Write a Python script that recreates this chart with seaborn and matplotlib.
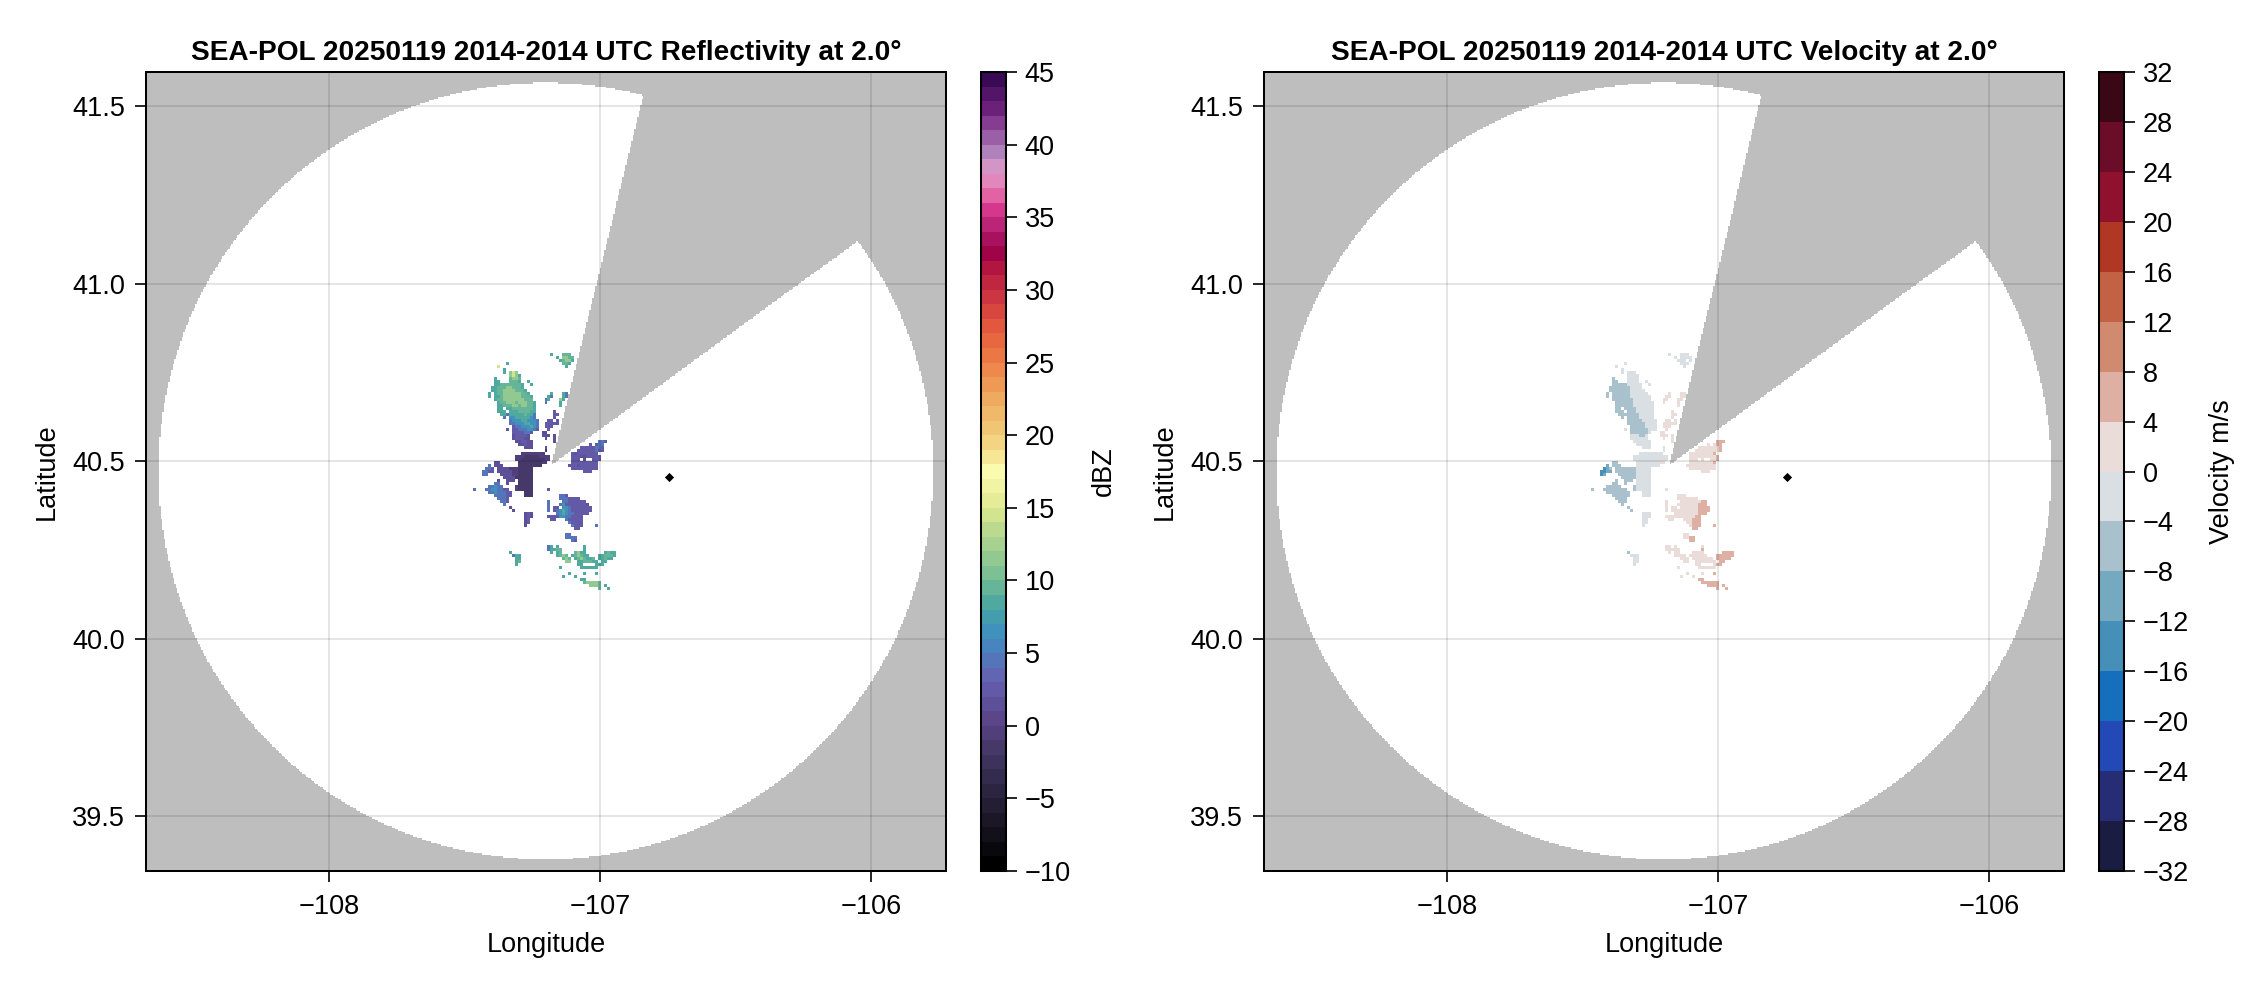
import matplotlib
matplotlib.use("Agg")
import matplotlib.pyplot as plt
from matplotlib.colors import LinearSegmentedColormap, ListedColormap
import numpy as np
import pandas as pd
import seaborn as sns

sns.set_theme(style="ticks")
plt.rcParams['font.family'] = ['Liberation Sans', 'DejaVu Sans']

# axes limits
lon_lim = [-108.675, -105.724]
lat_lim = [39.346, 41.596]
lon_ticks = [-108, -107, -106]
lat_ticks = [39.5, 40.0, 40.5, 41.0, 41.5]
lon_tick_labels = ['\u2212108', '\u2212107', '\u2212106']
lat_tick_labels = ['39.5', '40.0', '40.5', '41.0', '41.5']

# radar coverage, gray is everything out of range or in the blocked sector
range_center = [-107.2, 40.472]
range_radius = [1.428, 1.093]
sector_apex = [-107.18, 40.489]
sector_tip_a = [-106.84, 41.528]
sector_tip_b = [-106.056, 41.117]
marker_point = [-106.746, 40.455]

refl_levels = [-10, -8, -5, -2.5, 0, 3, 5, 6.5, 8, 10, 13, 15, 17.5, 19, 21, 23, 25, 27.5,
               29.5, 31.5, 33, 34.5, 36, 37, 38.5, 40, 41.5, 43, 45]
refl_colors = ['#000000', '#121018', '#2b2440', '#3f3560', '#5a4488', '#6562b0', '#4a80c0',
               '#3e94bb', '#49a5a0', '#75bd94', '#b3d68c', '#dfe993', '#fbfbb0', '#f3dc88',
               '#efc070', '#eea55c', '#ee8148', '#e45a3e', '#cf3a42', '#b8193f', '#9a0048',
               '#b52070', '#d83a90', '#e26aa8', '#e09cca', '#ad80ba', '#8f4a9c', '#6a1f78',
               '#3b0a55']
refl_ticks = [-10, -5, 0, 5, 10, 15, 20, 25, 30, 35, 40, 45]

vel_colors = ['#1a1c42', '#262d74', '#2249b5', '#166fbc', '#458fb9', '#75a9bf', '#a9c1cc',
              '#dadfe3', '#e9dcd9', '#deb0a4', '#cf8a70', '#c26144', '#b03723', '#90112e',
              '#6b0d28', '#3a0815']
vel_ticks = [-32, -28, -24, -20, -16, -12, -8, -4, 0, 4, 8, 12, 16, 20, 24, 28, 32]

# echo rasters, groups of ten columns
echo_origin = [-107.479, 40.813]
refl_codes = {'d': -2, 'm': -0.5, 'p': 1.5, 'q': 2.5, 'b': 4.5, 'B': 6, 't': 8, 'g': 9.5, 'G': 11, 'y': 14}
vel_codes = {'h': -14, 'a': -10, 'b': -6, 'c': -2, 'e': 2, 'f': 6}

refl_rows = [
    "",
    ".......... .......... .......t.. .ggg",
    ".......... .......... .........t .GGgg",
    ".......... .......... .......... tgGGt",
    ".......... ..t....... .......... .ggt",
    ".........y .......... .......... ..t",
    ".......... .t",
    ".......... .t.GyG",
    ".......... ...GyGt",
    "........t. ...gGGg",
    "........tt ...gggt..t",
    "........tt gggggggt.. t",
    ".......ttg ggGGgggt..",
    ".......ttg gGGGGgggt.",
    "......t.tg gGGGGGGggt .......t.. .tb",
    "......t.tt gGGGGGGggg t.....tb.. .tb",
    "........tg gGGGGGGGgg g....bt... Gt",
    ".........t ggGGGgGGGg gt...b.... t",
    ".........t tgggGGgGGg gt........ t",
    ".........t t.ttgggggg gt",
    ".........t tt.tttgggg tt......q.",
    ".......... ttbtttttgt tb......qq",
    ".......... .b.BBttttt Bb......q.",
    ".......... ...bBBBttB BBb...qq.q",
    ".......... ...bbBBBtt BBb..qqqqq",
    ".......... ....qbbBBB tBb..qqq..",
    ".......... ..q.qqbbbB Bbq...q...",
    ".......... ....qqqqbb q...pp....",
    ".......... ....pqqqqp ....ppp.p.",
    ".......... ....pqqqpp .....p..p.",
    ".......... .....ppqqp p.......p. .......... ...bbq",
    ".......... ......ppqp p......... .......... q.qbb",
    ".......... ........pp p....p.... .......qqq qqbbq",
    ".......... .......... .....d.... ......qqqq qqbqq",
    ".......... .......mmm mmmmm.... .....qpqqq qqqq",
    ".......... .....mmmdd dddmmmm... ....qqqppq qqqq",
    ".......... .....mmddd dddddmm... ....qqq.p. .qqq",
    "........pp ......dddd ddddmm.... ....qqqqqq qqq",
    "......b.pp p.....dddd dddd...... ...qqqpqqq qqq",
    ".....bbq.p pppmmmdddd d......... ....qqqqqq qqq",
    "....bbqq.p ppppmmdddd d......... ........qq q",
    "....bb.... ppppmmdddd d",
    ".......... .ppppddddd d",
    ".........p ..ppp.dddd d",
    "........bb ..p...dddd d",
    "......bbBb b....mdddd d",
    ".b...bbBBb bqq..mdddd d.....q",
    "......bbBb bbqq....dd d",
    "........bb bbqq....dd d......... bbq",
    ".........b bbq....... .......... bbbqqqq",
    ".......... bbq....... ......b... .bbqqqqqq",
    ".......... .b........ ......b... bBqqqqqqqp",
    ".......... ...p...... ......b.qq .BBbqqqqqq q",
    ".......... ....p..... ......b.qb BtBbqqqqqq q",
    ".......... ........pq p........b BtBbbqqqqq",
    ".......... ........pq p.....qqqq BBbbqqqq",
    ".......... ........pq .......qq. ..bqqqqq",
    ".......... ........pq .......... ...bqqqq",
    ".......... ........p. .......... ....bqqq.. ..b",
    ".......... .......... .......... .....qq",
    "",
    ".......... .......... .......... ..bb",
    ".......... .......... .......... ..bbbb",
    ".......... .......... .......... ....bq",
    "",
    ".......... .......... ......bt.t ........t.",
    ".......... .......... ......bttg g.......t.",
    ".......... ...t...... .......t.t g....gGtt. .....tgtt",
    ".......... ....btt... .........t gGg.tgGgtt ...ttgggt",
    ".......... .....tt... .......... .gGg.tgGgt tg.ttgtt",
    ".......... .....tg... .......... ..GG..ttgg gtt.tt",
    ".......... .....t.... .......... ......tt.. ..ttt",
    ".......... .......... .......... t......ttt ttt",
    "",
    ".......... .......... .......... ...t....t. ..t",
    ".......... .......... .......... .t...t....",
    ".......... .......... .......... .......tt.",
    ".......... .......... .......... ........gG GGGg",
    ".......... .......... .......... .......... GGGg.t",
    ".......... .......... .......... .......... ...g..t",
]

vel_rows = [
    "",
    ".......... .......... .......c.. .ccc",
    ".......... .......... .........c .cccc",
    ".......... .......... .......... ccc.c",
    ".......... ..c....... .......... .ccc",
    ".........c .......... .......... ..c",
    ".......... .c",
    ".......... .c.ccc",
    ".......... ...cccc",
    "........b. ...cccc",
    "........bb ...cccc..c",
    "........bb bbbccccc.. c",
    ".......bbb bbbbcccc..",
    ".......bbb bbbbccccc.",
    "......b.bb bbbbcccccc .......e.. .ee",
    "......b.bb bbbbcccccc c.....ee.. .ee",
    "........bb bbbbbccccc c....ee... ee",
    ".........b bbbbbccccc cc...e.... e",
    ".........b bbbbbccccc cc........ e",
    ".........b b.bbbbcccc cc",
    ".........b bb.bbbcccc cc......e.",
    ".......... bbbbbbbccc cc......ee",
    ".......... .b.bbbbccc cc......e.",
    ".......... ...bbbbbcc ccc...ee.e",
    ".......... ...bbbbbbc ccc..eeeee",
    ".......... ....bbbbbc ccc..eee..",
    ".......... ..c.bbbbbb ccc...e...",
    ".......... ....bbbbbb c...ee....",
    ".......... ....cccbbc ....eee.e.",
    ".......... ....cccccc .....e..e.",
    ".......... .....ccccc c.......e. .......... ...fff",
    ".......... ......cccc c......... .......... e.eff",
    ".......... ........cc c....c.... .......eee eeeef",
    ".......... .......... .....c.... ......eeee eeeef",
    ".......... .......ccc ccccc.... .....eeeee eeef",
    ".......... .....ccccc ccccccc... ....eeeeee eeef",
    ".......... .....ccccc ccccccc... ....eee.e. .eef",
    "........bb ......cccc ccccee.... ....eeeeee eef",
    "......a.bb b.....cccc cccc...... ...eeeeeee eee",
    ".....hab.b bbbbbbcccc c......... ....eeeeee eee",
    "....hhaa.b bbbbbbcccc c......... ........ee e",
    "....ha.... bbbbbbcccc c",
    ".......... .bbbbbcccc c",
    ".........b ..bbb.cccc c",
    "........bb ..b...cccc c",
    "......bbbb b....bcccc c",
    ".b...bbbbb bbb..bcccc c.....e",
    "......bbbb bbbb....cc c",
    "........bb bbbb....cc c......... eee",
    ".........b bbb....... .......... eeeeeee",
    ".......... bbb....... ......e... .eeeeeeeff",
    ".......... .b........ ......e... eeeeeeefff",
    ".......... ...b...... ......e.ee .eeeeeefff f",
    ".......... ....b..... ......e.ee eeeeeeefff f",
    ".......... ........cc c........e eeeeeeefff",
    ".......... ........cc c.....eeee eeeeeeff",
    ".......... ........cc .......ee. ..eeefff",
    ".......... ........cc .......... ...eefff",
    ".......... ........c. .......... ....efff.. ..f",
    ".......... .......... .......... .....ff",
    "",
    ".......... .......... .......... ..ee",
    ".......... .......... .......... ..eeff",
    ".......... .......... .......... ....ff",
    "",
    ".......... .......... ......ee.e ........e.",
    ".......... .......... ......eeee e.......f.",
    ".......... ...b...... .......e.e e....eeee. .....ffff",
    ".......... ....ccc... .........e eee.eeeeee ...ffffff",
    ".......... .....cc... .......... .eee.eeeee ee.fffff",
    ".......... .....cc... .......... ..ee..eeee eee.ff",
    ".......... .....c.... .......... ......ee.. ..eff",
    ".......... .......... .......... e......eee eee",
    "",
    ".......... .......... .......... ...e....e. ..f",
    ".......... .......... .......... .e...e....",
    ".......... .......... .......... .......ff.",
    ".......... .......... .......... ........ff ffff",
    ".......... .......... .......... .......... ffff.f",
    ".......... .......... .......... .......... ...f..f",
]

# 1.5 px cells over the 800 px axes, one raster cell covers two of them each way
n_cells = 534
echo_span = 2
lon_step = (lon_lim[1] - lon_lim[0]) / n_cells
lat_step = (lat_lim[1] - lat_lim[0]) / n_cells
lon_centers = lon_lim[0] + (np.arange(n_cells) + 0.5) * lon_step
lat_centers = lat_lim[1] - (np.arange(n_cells) + 0.5) * lat_step


def lon_to_x(lon):
    return (np.asarray(lon) - lon_lim[0]) / lon_step


def lat_to_y(lat):
    return (lat_lim[1] - np.asarray(lat)) / lat_step


def coverage_grid():
    lon, lat = np.meshgrid(lon_centers, lat_centers)
    in_range = ((lon - range_center[0]) / range_radius[0]) ** 2 + ((lat - range_center[1]) / range_radius[1]) ** 2 <= 1
    squeeze = np.cos(np.radians(sector_apex[1]))
    az = np.arctan2((lon - sector_apex[0]) * squeeze, lat - sector_apex[1])
    az_a = np.arctan2((sector_tip_a[0] - sector_apex[0]) * squeeze, sector_tip_a[1] - sector_apex[1])
    az_b = np.arctan2((sector_tip_b[0] - sector_apex[0]) * squeeze, sector_tip_b[1] - sector_apex[1])
    blocked = (az >= az_a) & (az <= az_b)
    return pd.DataFrame((in_range & ~blocked).astype(float))


def echo_grid(rows, codes):
    grid = np.full((n_cells, n_cells), np.nan)
    col0 = int(round(lon_to_x(echo_origin[0])))
    row0 = int(round(lat_to_y(echo_origin[1])))
    for r, text in enumerate(rows):
        for c, ch in enumerate(text.replace(' ', '')):
            if ch != '.':
                grid[row0 + r * echo_span:row0 + (r + 1) * echo_span,
                     col0 + c * echo_span:col0 + (c + 1) * echo_span] = codes[ch]
    return pd.DataFrame(grid)


def style_spines(ax):
    for spine in ax.spines.values():
        spine.set_visible(True)
        spine.set_linewidth(1.45)
        spine.set_color('black')


def draw_panel(rect, cbar_rect, title, rows, codes, cmap, vmin, vmax, ticks, cbar_label):
    ax = fig.add_axes(rect)
    cax = fig.add_axes(cbar_rect)
    sns.heatmap(coverage_grid(), ax=ax, cmap=ListedColormap(['#bebebe', '#ffffff']), vmin=0, vmax=1,
                cbar=False, xticklabels=False, yticklabels=False)
    sns.heatmap(echo_grid(rows, codes), ax=ax, cmap=cmap, vmin=vmin, vmax=vmax, cbar_ax=cax,
                cbar_kws={'ticks': ticks}, xticklabels=False, yticklabels=False)
    sns.scatterplot(x=[float(lon_to_x(marker_point[0]))], y=[float(lat_to_y(marker_point[1]))], marker='D',
                    color='black', s=22, linewidth=0, ax=ax, legend=False, zorder=5)

    ax.set_xticks(lon_to_x(lon_ticks))
    ax.set_xticklabels(lon_tick_labels)
    ax.set_yticks(lat_to_y(lat_ticks))
    ax.set_yticklabels(lat_tick_labels, rotation=0)
    ax.set_xlim(0, n_cells)
    ax.set_ylim(n_cells, 0)
    ax.set_axisbelow(False)
    ax.grid(True, color='black', alpha=0.1, linewidth=1.45)
    ax.tick_params(length=8, width=1.2, color='black', labelsize=19.5, labelcolor='black')
    ax.tick_params(axis='x', pad=8.6)
    ax.tick_params(axis='y', pad=7)
    ax.set_xlabel('Longitude', fontsize=19.5, color='black', visible=True)
    ax.set_ylabel('Latitude', fontsize=19.5, color='black', visible=True)
    ax.xaxis.set_label_coords(0.5, -0.0763)
    ax.yaxis.set_label_coords(-0.1075, 0.5)
    ax.set_title(title, fontsize=20.2, fontweight='bold', pad=9, color='black')
    style_spines(ax)

    cax.tick_params(length=8, width=1.2, color='black', labelsize=19.5, pad=5.5, labelcolor='black')
    cax.set_ylabel(cbar_label, fontsize=19.5, color='black')
    cax.yaxis.set_label_coords(4.4, 0.5)
    style_spines(cax)


W, H = 2262, 990
fig = plt.figure(figsize=(W / 100, H / 100), dpi=100)


def px_rect(x0, x1, y0, y1):
    return [x0 / W, 1 - y1 / H, (x1 - x0) / W, (y1 - y0) / H]


refl_cmap = LinearSegmentedColormap.from_list(
    'refl', [((v + 10) / 55, c) for v, c in zip(refl_levels, refl_colors)], N=55)

draw_panel(px_rect(146, 946, 72, 871), px_rect(981, 1006, 72, 871),
           'SEA-POL 20250119 2014-2014 UTC Reflectivity at 2.0\u00b0',
           refl_rows, refl_codes, refl_cmap, -10, 45, refl_ticks, 'dBZ')
draw_panel(px_rect(1264, 2064, 72, 871), px_rect(2099, 2124, 72, 871),
           'SEA-POL 20250119 2014-2014 UTC Velocity at 2.0\u00b0',
           vel_rows, vel_codes, ListedColormap(vel_colors), -32, 32, vel_ticks, 'Velocity m/s')

fig.savefig('out.png', dpi=100)
